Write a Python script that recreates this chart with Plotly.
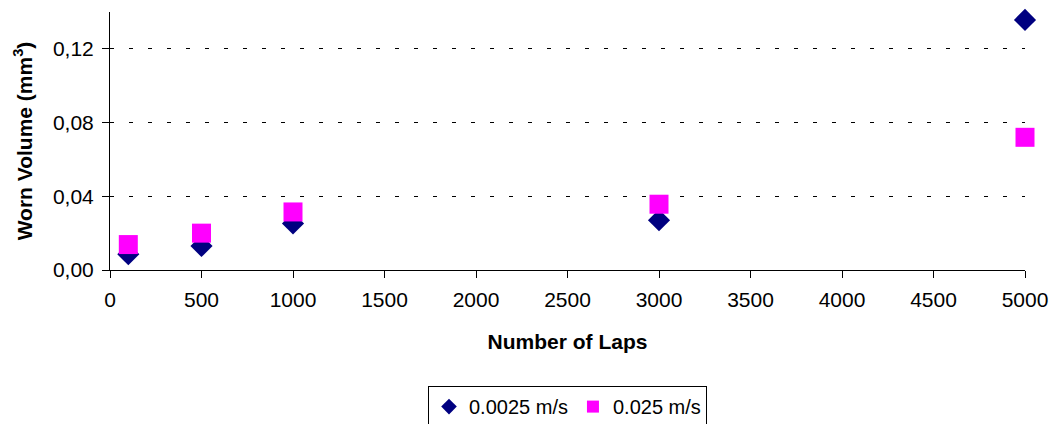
import plotly.graph_objects as go

# Wear test results: worn volume vs. number of laps at two sliding speeds
laps = [100, 500, 1000, 3000, 5000]
vol_slow = [0.0086, 0.013, 0.0252, 0.027, 0.1357]   # 0.0025 m/s
vol_fast = [0.0138, 0.020, 0.0315, 0.0357, 0.072]   # 0.025 m/s
y_ticks = [0.0, 0.04, 0.08, 0.12]
x_ticks = list(range(0, 5001, 500))

font_family = "Liberation Sans, Arial, sans-serif"

fig = go.Figure()
fig.add_trace(go.Scatter(
    x=laps, y=vol_slow, mode="markers", name="0.0025 m/s",
    marker=dict(symbol="diamond", size=17, color="#000080",
                line=dict(width=0)),
    cliponaxis=False,
))
fig.add_trace(go.Scatter(
    x=laps, y=vol_fast, mode="markers", name="0.025 m/s",
    marker=dict(symbol="square", size=19, color="#FF00FF",
                line=dict(width=0)),
    cliponaxis=False,
))

fig.update_layout(
    width=1058, height=424,
    margin=dict(l=110, r=33, t=12, b=154, autoexpand=False),
    paper_bgcolor="white", plot_bgcolor="white",
    separators=",.",
    font=dict(family=font_family, size=20, color="black"),
    showlegend=True,
    legend=dict(
        orientation="h", x=0.5, xanchor="center", xref="paper",
        y=-0.45, yanchor="top",
        bordercolor="black", borderwidth=1,
        font=dict(size=20), itemsizing="constant",
        itemwidth=30, tracegroupgap=0,
    ),
)

fig.update_xaxes(
    range=[0, 5000], tickvals=x_ticks,
    showline=True, linecolor="black", linewidth=1,
    ticks="outside", ticklen=7, tickcolor="black",
    showgrid=False, zeroline=False, automargin=False,
    tickfont=dict(size=21), ticklabelstandoff=4,
    title=dict(text="<b>Number of Laps</b>", font=dict(size=21), standoff=24),
)
fig.update_yaxes(
    range=[0, 0.14], tickvals=y_ticks, tickformat=".2f",
    showline=True, linecolor="black", linewidth=1,
    ticks="outside", ticklen=7, tickcolor="black",
    showgrid=True, gridcolor="black", gridwidth=1, griddash="4px,15px",
    zeroline=False, automargin=False,
    tickfont=dict(size=21), ticklabelstandoff=4,
    title=dict(text="<b>Worn Volume (mm<sup>3</sup>)</b>", font=dict(size=21), standoff=14),
)

fig.write_html("out.html")
